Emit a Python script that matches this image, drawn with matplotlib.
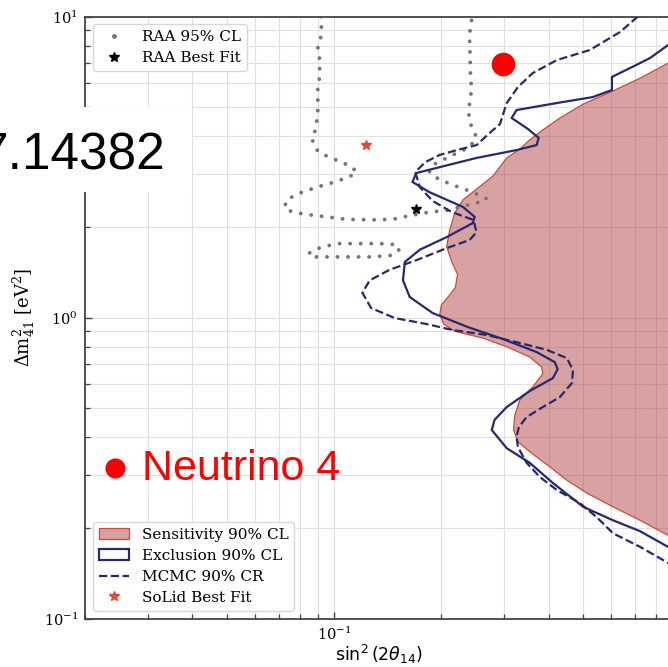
import matplotlib
matplotlib.use("Agg")
import matplotlib.pyplot as plt
from matplotlib.patches import Rectangle
from matplotlib.lines import Line2D

plt.rcParams['font.family'] = 'DejaVu Serif'
plt.rcParams['mathtext.fontset'] = 'dejavuserif'

# Sensitivity 90% CL boundary (closed along sin^2 = 1)
sens_x = [1.0, 0.865, 0.722, 0.606, 0.5, 0.43, 0.385, 0.354, 0.332, 0.305, 0.279, 0.245,
          0.23, 0.218, 0.211, 0.207, 0.214, 0.222, 0.219, 0.21, 0.2, 0.198, 0.203, 0.218,
          0.261, 0.305, 0.354, 0.382, 0.385, 0.361, 0.332, 0.321, 0.319, 0.328, 0.361,
          0.403, 0.45, 0.512, 0.606, 0.722, 0.865, 1.0]
sens_y = [7.74, 7.0, 6.24, 5.66, 5.12, 4.6, 4.2, 3.89, 3.63, 3.39, 2.95, 2.61, 2.46, 2.22,
          1.95, 1.72, 1.53, 1.39, 1.26, 1.18, 1.1, 1.027, 0.951, 0.9, 0.855, 0.8, 0.739,
          0.685, 0.65, 0.588, 0.532, 0.471, 0.423, 0.386, 0.352, 0.319, 0.288, 0.261,
          0.235, 0.212, 0.189, 0.176]

# Exclusion 90% CL contour
excl_x = [1.0, 0.865, 0.77, 0.685, 0.602, 0.602, 0.532, 0.422, 0.325, 0.315, 0.35, 0.375,
          0.37, 0.325, 0.251, 0.198, 0.17, 0.166, 0.185, 0.23, 0.248, 0.245, 0.207, 0.174,
          0.158, 0.156, 0.163, 0.189, 0.237, 0.297, 0.37, 0.416, 0.424, 0.411, 0.354,
          0.305, 0.282, 0.277, 0.292, 0.305, 0.354, 0.411, 0.5, 0.606, 0.722, 0.865, 1.0]
excl_y = [9.0, 8.04, 7.28, 6.79, 6.3, 5.7, 5.4, 5.16, 4.89, 4.6, 4.23, 3.95, 3.74, 3.6,
          3.39, 3.16, 3.02, 2.82, 2.61, 2.33, 2.16, 2.06, 1.85, 1.68, 1.53, 1.33, 1.17,
          1.035, 0.93, 0.849, 0.768, 0.711, 0.674, 0.629, 0.57, 0.504, 0.457, 0.423,
          0.392, 0.368, 0.329, 0.282, 0.235, 0.212, 0.195, 0.173, 0.161]

# MCMC 90% credible region contour
mcmc_x = [0.712, 0.634, 0.522, 0.422, 0.361, 0.328, 0.305, 0.292, 0.273, 0.251, 0.221,
          0.198, 0.18, 0.169, 0.174, 0.189, 0.214, 0.246, 0.251, 0.24, 0.207, 0.17, 0.143,
          0.126, 0.12, 0.127, 0.148, 0.182, 0.215, 0.268, 0.332, 0.396, 0.45, 0.468,
          0.465, 0.43, 0.385, 0.347, 0.33, 0.325, 0.328, 0.347, 0.378, 0.422, 0.489,
          0.548, 0.606, 0.722, 0.865, 1.0]
mcmc_y = [10.0, 8.88, 7.74, 7.17, 6.49, 5.83, 5.16, 4.39, 4.1, 3.74, 3.6, 3.47, 3.28,
          3.04, 2.71, 2.44, 2.24, 2.11, 1.92, 1.81, 1.7, 1.55, 1.44, 1.33, 1.21, 1.075,
          0.996, 0.951, 0.909, 0.875, 0.823, 0.78, 0.733, 0.669, 0.606, 0.544, 0.504,
          0.467, 0.433, 0.401, 0.371, 0.329, 0.295, 0.267, 0.242, 0.216, 0.192, 0.173,
          0.153, 0.142]

# RAA 95% CL contour: main branch and small island
raa_x = [0.0917, 0.0922, 0.0917, 0.09, 0.0911, 0.0911, 0.09, 0.09, 0.09, 0.0893, 0.0882,
         0.0865, 0.0882, 0.0911, 0.0971, 0.105, 0.1127, 0.1156, 0.1084, 0.0984, 0.0893,
         0.08, 0.0735, 0.0726, 0.0765, 0.0837, 0.0953, 0.1084, 0.126, 0.146, 0.16, 0.185,
         0.207, 0.225, 0.251, 0.268, 0.256, 0.236, 0.211, 0.194, 0.185, 0.189, 0.202,
         0.221, 0.24, 0.251, 0.243, 0.239, 0.24, 0.243, 0.241, 0.241, 0.24, 0.24, 0.243,
         0.243]
raa_y = [10.0, 9.37, 8.49, 7.86, 7.17, 6.3, 5.79, 5.28, 4.78, 4.46, 4.13, 3.98, 3.68, 3.52,
         3.41, 3.28, 3.16, 3.02, 2.91, 2.8, 2.71, 2.59, 2.46, 2.31, 2.24, 2.2, 2.16, 2.12,
         2.11, 2.12, 2.17, 2.24, 2.27, 2.33, 2.4, 2.48, 2.55, 2.65, 2.78, 2.91, 3.04, 3.21,
         3.34, 3.52, 3.68, 3.98, 4.29, 4.7, 5.2, 5.7, 6.64, 7.28, 8.17, 8.81, 9.51, 10.0]
raa_island_x = [0.0854, 0.0893, 0.0953, 0.1036, 0.118, 0.134, 0.146, 0.153, 0.146, 0.128,
                0.1127, 0.099, 0.087, 0.0854]
raa_island_y = [1.64, 1.69, 1.73, 1.76, 1.76, 1.76, 1.75, 1.69, 1.61, 1.59, 1.59, 1.59,
                1.59, 1.64]

# Best-fit points
raa_bf_x, raa_bf_y = [0.17], [2.29]
solid_bf_x, solid_bf_y = [0.123], [3.74]
neutrino4_x, neutrino4_y = [0.297], [6.95]

x_major_ticks = [0.1]

navy = '#27286f'
raa_gray = '#767676'

fig = plt.figure(figsize=(6.68, 6.67), dpi=100)
ax = fig.add_axes([0.12725, 0.07271, 0.9064, 0.9025])
ax.set_xscale('log')
ax.set_yscale('log')
ax.set_xlim(0.02, 1.0)
ax.set_ylim(0.1, 10)
ax.set_xticks(x_major_ticks)
ax.set_axisbelow(True)
ax.grid(True, which='both', color='#e0e0e0', lw=0.8)

sens = ax.fill(sens_x, sens_y, facecolor=(0.66, 0.16, 0.16, 0.43), edgecolor='#d0483a',
               lw=0.9, label='Sensitivity 90% CL', zorder=2)[0]
excl = ax.fill(excl_x, excl_y, facecolor='none', edgecolor=navy, lw=1.6,
               label='Exclusion 90% CL', zorder=3)[0]
mcmc, = ax.plot(mcmc_x, mcmc_y, linestyle='--', color=navy, lw=1.6,
                label='MCMC 90% CR', zorder=3)

for xs, ys in [(raa_x, raa_y), (raa_island_x, raa_island_y)]:
    ax.plot(xs, ys, color=raa_gray, lw=2.8, linestyle=(0, (0.01, 2.7)),
            dash_capstyle='round', zorder=2.5)

raa_bf, = ax.plot(raa_bf_x, raa_bf_y, linestyle='none', marker='*', color='black',
                  ms=7.5, label='RAA Best Fit', zorder=4)
solid_bf, = ax.plot(solid_bf_x, solid_bf_y, linestyle='none', marker='*',
                    color='#e8473d', ms=7.5, label='SoLid Best Fit', zorder=4)
raa_proxy = Line2D([], [], linestyle='none', marker='.', color=raa_gray, ms=5,
                   label='RAA 95% CL')

for side in ['left', 'bottom', 'top', 'right']:
    ax.spines[side].set_color('#444444')
    ax.spines[side].set_linewidth(1.3)
ax.tick_params(which='both', direction='in', top=False, right=False,
               labelsize=10.5, color='#444444')
ax.tick_params(which='major', length=5, width=1, pad=5)
ax.tick_params(which='minor', length=3.5, width=0.9)

ax.set_ylabel(r'$\Delta\mathrm{m}^2_{41}$ [eV$^2$]', fontsize=13)
ax.yaxis.set_label_coords(-0.079, 0.5)
ax.set_xlabel(r'$\sin^2(2\theta_{14})$', fontsize=12.5, math_fontfamily='dejavusans')
ax.xaxis.set_label_coords(0.486, -0.04)

leg_kw = dict(fontsize=11, frameon=True, edgecolor='#d8d8d8', framealpha=1.0,
              borderpad=0.4, labelspacing=0.45, handlelength=2.0)
leg1 = ax.legend(handles=[raa_proxy, raa_bf], loc='upper left', **leg_kw)
ax.add_artist(leg1)
ax.legend(handles=[sens, excl, mcmc, solid_bf], loc='lower left', **leg_kw)

# Slide annotations
ax.plot(neutrino4_x, neutrino4_y, linestyle='none', marker='o', color='#ff0000',
        ms=16, zorder=10, clip_on=False)
fig.add_artist(Line2D([114.5 / 668], [1 - 467.7 / 667], transform=fig.transFigure,
                      linestyle='none', marker='o', color='#ff0000', ms=13.5, zorder=10))
fig.text(142 / 668, 1 - 480 / 667, 'Neutrino 4', color='#ff0000', fontsize=31,
         family='Liberation Sans', va='baseline', ha='left', zorder=10)
fig.add_artist(Rectangle((0, 1 - 192 / 667), 192 / 668, 85 / 667, transform=fig.transFigure,
                         facecolor='white', edgecolor='none', zorder=9))
fig.text(165 / 668, 1 - 170 / 667, '7.14382', color='black', fontsize=37,
         family='Liberation Sans', va='baseline', ha='right', zorder=10)

fig.savefig('out.png', dpi=100)
